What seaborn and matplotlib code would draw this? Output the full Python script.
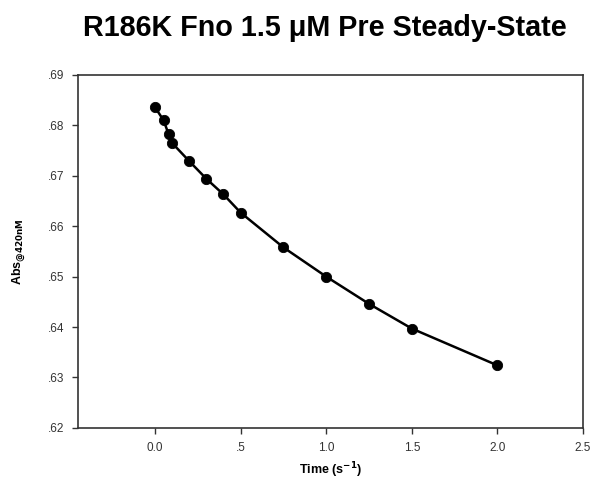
import matplotlib
matplotlib.use("Agg")
import matplotlib.pyplot as plt
import seaborn as sns
import pandas as pd

time_s = [0.0, 0.05, 0.08, 0.1, 0.2, 0.3, 0.4, 0.5, 0.75, 1.0, 1.25, 1.5, 2.0]
absorbance = [0.6836, 0.6810, 0.6782, 0.6765, 0.6729, 0.6694, 0.6663, 0.6627,
              0.6558, 0.6500, 0.6446, 0.6397, 0.6324]
x_ticks = [0.0, 0.5, 1.0, 1.5, 2.0, 2.5]
x_labels = ["0.0", ".5", "1.0", "1.5", "2.0", "2.5"]
y_ticks = [0.62, 0.63, 0.64, 0.65, 0.66, 0.67, 0.68, 0.69]
y_labels = [".62", ".63", ".64", ".65", ".66", ".67", ".68", ".69"]

df = pd.DataFrame({"t": time_s, "a": absorbance})

sns.set_style("white")
plt.rcParams['font.family'] = ['Liberation Sans', 'DejaVu Sans']
plt.rcParams['text.color'] = 'black'
plt.rcParams['axes.labelcolor'] = 'black'

fig = plt.figure(figsize=(5.95, 4.93), dpi=100)
ax = fig.add_axes([0.131, 0.132, 0.849, 0.716])

sns.lineplot(data=df, x="t", y="a", ax=ax, color="black", linewidth=1.8)
sns.scatterplot(data=df, x="t", y="a", ax=ax, color="black", s=55, edgecolor="black", zorder=3)

ax.set_xlim(-0.45, 2.5)
ax.set_ylim(0.62, 0.69)
ax.set_xticks(x_ticks)
ax.set_xticklabels(x_labels)
ax.set_yticks(y_ticks)
ax.set_yticklabels(y_labels)
ax.tick_params(axis="both", direction="out", length=4, width=1, color="#333333",
               labelsize=8.5, labelcolor="#333333", left=True, bottom=True, pad=6)
for sp in ax.spines.values():
    sp.set_color("#333333")
    sp.set_linewidth(1.2)

ax.set_xlabel(r"Time (s$^{\mathbf{-1}}$)", fontsize=9, fontweight="bold", labelpad=5)
ax.set_ylabel(r"Abs$_{\mathbf{@420nM}}$", fontsize=9, fontweight="bold", labelpad=14)

fig.text(0.546, 1 - 28 / 493, "R186K Fno 1.5 \u03bcM Pre Steady-State", fontsize=20.7,
         fontweight="bold", ha="center", va="center", color="black")

fig.savefig("out.png", dpi=100)
